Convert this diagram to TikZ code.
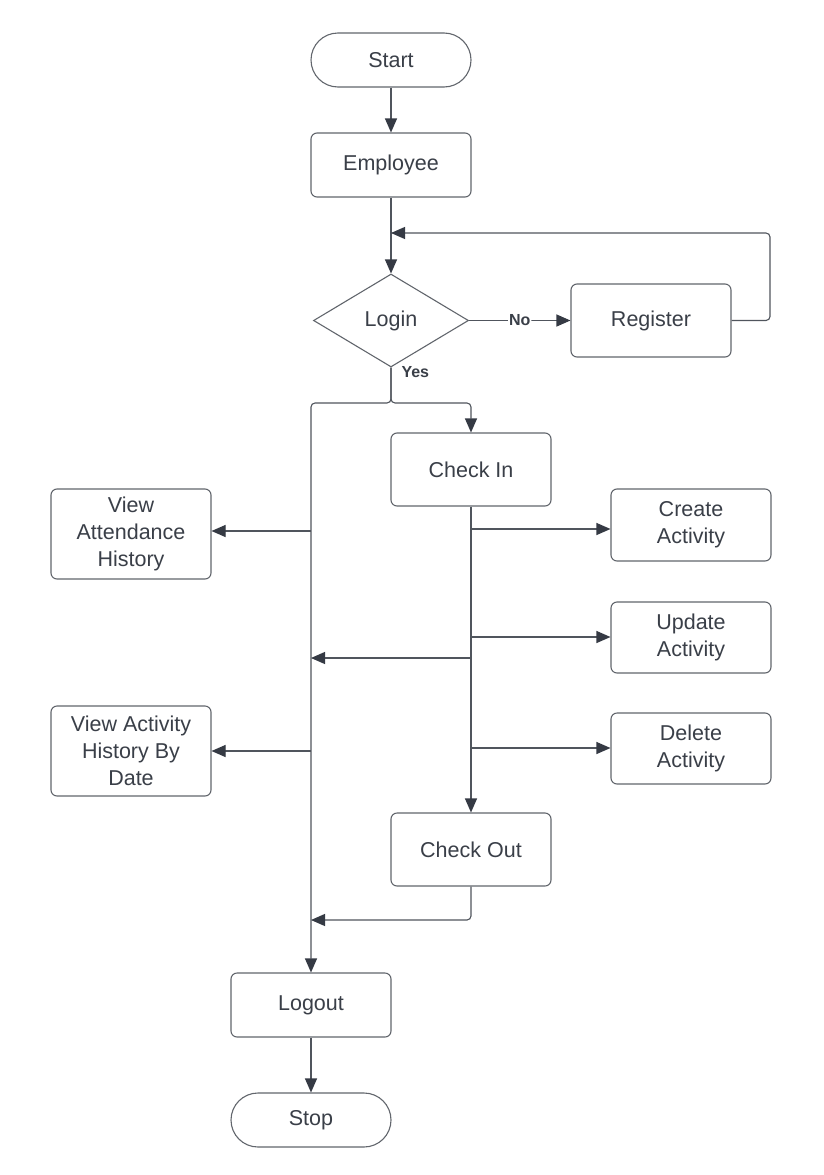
\documentclass[tikz,border=0pt]{standalone}
\usepackage{fontspec}
\setmainfont{Liberation Sans}
\usetikzlibrary{arrows.meta,shapes.geometric}
\definecolor{txt}{HTML}{3A3F48}
\definecolor{brd}{HTML}{62666D}
\definecolor{lnc}{HTML}{50555D}
\definecolor{ahc}{HTML}{353A44}
\begin{document}
\begin{tikzpicture}[x=1pt,y=-1pt,
  box/.style={draw=brd, line width=1.1pt, rounded corners=6pt, minimum width=160pt,
    minimum height=72pt, align=center, text=txt, inner sep=0pt,
    font=\fontsize{21.5}{27}\selectfont},
  term/.style={box, rounded corners=27pt, minimum height=54pt},
  dec/.style={diamond, draw=brd, line width=1.1pt, minimum width=155pt, minimum height=93pt,
    aspect=1.67, inner sep=0pt, text=txt, font=\fontsize{21.5}{27}\selectfont},
  conn/.style={draw=lnc, line width=1.1pt, rounded corners=4pt},
  arr/.style={conn, -{Triangle[length=14pt,width=12pt,color=ahc]}},
  lbl/.style={font=\bfseries\fontsize{16}{18}\selectfont, text=txt}]
\fill[white] (0,0) rectangle (823,1175);
\useasboundingbox (0,0) rectangle (823,1175);

\node[term] (start) at (391,60) {Start};
\node[box, minimum height=64pt] (emp) at (391,165) {Employee};
\node[dec] (login) at (391,320.5) {Login};
\node[box, minimum height=73pt] (reg) at (651,320.5) {Register};
\node[box, minimum height=73pt] (checkin) at (471,469.5) {Check In};
\node[box, minimum height=90pt] (viewatt) at (131,534) {View\\Attendance\\History};
\node[box, minimum height=72pt] (create) at (691,525) {Create\\Activity};
\node[box, minimum height=71pt] (update) at (691,637.5) {Update\\Activity};
\node[box, minimum height=90pt] (viewact) at (131,751) {View Activity\\History By\\Date};
\node[box, minimum height=71pt] (delete) at (691,748.5) {Delete\\Activity};
\node[box, minimum height=73pt] (checkout) at (471,849.5) {Check Out};
\node[box, minimum height=64pt] (logout) at (311,1005) {Logout};
\node[term] (stop) at (311,1120) {Stop};

\coordinate (loopin) at (391,233);
\coordinate (rloop) at (770,233);
\coordinate (split) at (391,403);
\coordinate (l1) at (311,531);
\coordinate (l2) at (311,751);
\coordinate (r1) at (471,529);
\coordinate (r2) at (471,637);
\coordinate (r3) at (471,748);
\coordinate (r4) at (471,658);
\coordinate (back) at (311,920);

\draw[arr] (start) -- (emp);
\draw[arr] (emp) -- (login);
\draw[arr] (login.east) -- node[lbl, fill=white, inner sep=1pt] (no) {No} (reg.west);
\draw[arr] (reg.east) -| (rloop) -- (loopin);
\draw[arr] (login.south) -- (split) -| (checkin.north);
\draw[arr] (login.south) -- (split) -| (logout.north);
\node[lbl, anchor=west] (yes) at (398,372) {Yes};

\draw[arr] (l1) -- (l1 -| viewatt.east);
\draw[arr] (l2) -- (l2 -| viewact.east);
\draw[arr] (checkin.south) -- (checkout.north);
\draw[arr] (r1) -- (r1 -| create.west);
\draw[arr] (r2) -- (r2 -| update.west);
\draw[arr] (r3) -- (r3 -| delete.west);
\draw[arr] (r4) -- (r4 -| logout.north);
\draw[arr] (checkout.south) |- (back);
\draw[arr] (logout) -- (stop);
\end{tikzpicture}
\end{document}
